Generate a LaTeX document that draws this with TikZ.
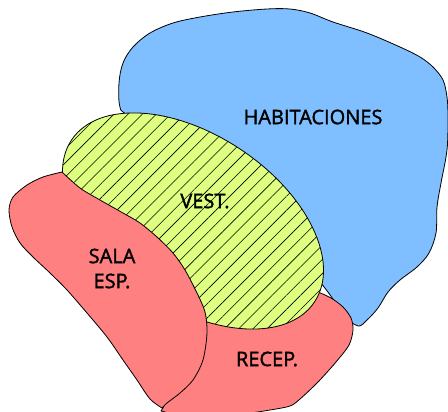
\documentclass[tikz,border=0pt]{standalone}
\usepackage{fontspec}
\setmainfont{Open Sans}
\newfontfamily\lblfont{Open Sans}[FakeBold=1.6]
\usetikzlibrary{patterns.meta}
\definecolor{habblue}{RGB}{128,191,255}
\definecolor{vestgreen}{RGB}{222,255,128}
\definecolor{salared}{RGB}{255,128,128}
\begin{document}
\begin{tikzpicture}[x=1pt,y=-1pt,
  zone/.style={draw=black, line width=0.8pt, line join=round},
  lbl/.style={font=\lblfont\fontsize{20}{22}\selectfont, text=black, inner sep=0pt}]
\useasboundingbox (0,0) rectangle (448,412);
\begin{scope}
\clip (0,0) rectangle (448,412);
% HABITACIONES
\path[zone, fill=habblue] plot[smooth cycle, tension=0.55] coordinates {
 (120,107) (119,83) (123,63) (133,47) (150,33) (173,23) (200,17) (233,12)
 (267,9) (290,9) (310,13) (333,22) (367,33) (400,47) (420,57) (433,67)
 (443,80) (447,97) (448,117) (447,150) (441,183) (437,207) (436,233)
 (429,253) (417,267) (400,280) (388,292) (378,308) (367,320) (358,326)
 (345,315) (300,260) (200,180) (130,118)};
% RECEP.
\path[zone, fill=salared]
 plot[smooth] coordinates {(209,317) (235,318) (270,312) (305,298) (318,292)}
 -- plot[smooth] coordinates {(318,292) (331,298) (343,307) (351,318) (353,330)
   (349,345) (336,362) (318,382) (300,399) (290,406) (270,410) (250,413)
   (220,416) (185,416) (161,411)}
 -- (180,380) -- (200,340) -- cycle;
% VEST.
\path[fill=vestgreen,
  postaction={pattern={Lines[angle=45,distance=10pt,line width=0.6pt]}},
  rotate around={-33.7:(193,221)}]
  (193,221) ellipse [x radius=146, y radius=86];
\path[zone] [rotate around={-33.7:(193,221)}] (193,221) ellipse [x radius=146, y radius=86];
% SALA ESP.
\path[zone, fill=salared]
 plot[smooth] coordinates {(62,172) (43,177) (27,185) (13,197) (9,210) (12,227)
   (20,243) (33,257) (50,273) (67,290) (87,313) (107,337) (123,360) (137,380)
   (150,399) (162,408)}
 -- plot[smooth] coordinates {(162,408) (167,403) (180,393) (193,380) (203,360)
   (207,333) (205,312) (197,293) (185,270) (173,253) (157,237) (140,223)
   (123,213) (100,200) (80,188) (62,172)}
 -- cycle;
\end{scope}
\node[lbl] (hab) at (313,117) {HABITACIONES};
\node[lbl] (vest) at (205,201) {VEST.};
\node[lbl] (sala) at (112,256) {SALA};
\node[lbl] (esp) at (112,281) {ESP.};
\node[lbl] (recep) at (267,359) {RECEP.};
\end{tikzpicture}
\end{document}
